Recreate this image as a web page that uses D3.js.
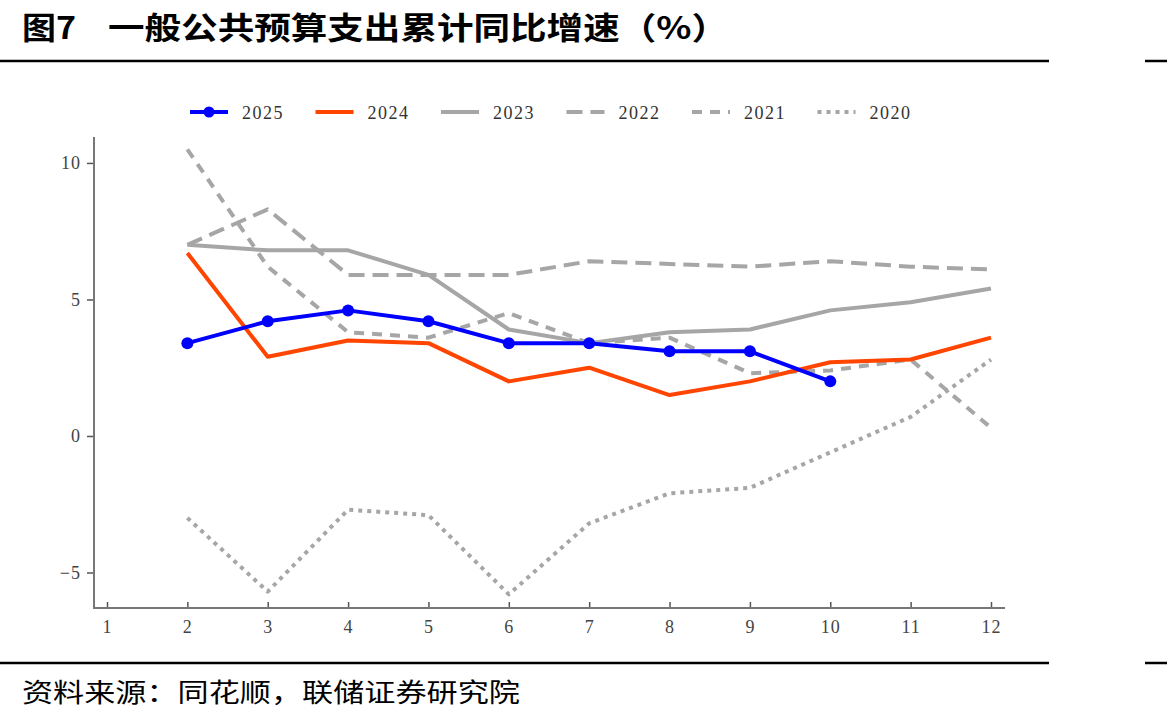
<!DOCTYPE html>
<html>
<head>
<meta charset="utf-8">
<script src="https://cdn.jsdelivr.net/npm/d3@7"></script>
<style>
  body { margin: 0; background: #fff; }
  svg { display: block; }
</style>
</head>
<body>
<script>
// months (x axis) and cumulative yoy growth per year
var months = [1, 2, 3, 4, 5, 6, 7, 8, 9, 10, 11, 12];
var yTicks = [-5, 0, 5, 10];
var years = ["2025", "2024", "2023", "2022", "2021", "2020"];

var s2025 = [null, 3.4, 4.2, 4.6, 4.2, 3.4, 3.4, 3.1, 3.1, 2.0, null, null];
var s2024 = [null, 6.7, 2.9, 3.5, 3.4, 2.0, 2.5, 1.5, 2.0, 2.7, 2.8, 3.6];
var s2023 = [null, 7.0, 6.8, 6.8, 5.9, 3.9, 3.4, 3.8, 3.9, 4.6, 4.9, 5.4];
var s2022 = [null, 7.0, 8.3, 5.9, 5.9, 5.9, 6.4, 6.3, 6.2, 6.4, 6.2, 6.1];
var s2021 = [null, 10.5, 6.2, 3.8, 3.6, 4.5, 3.4, 3.6, 2.3, 2.4, 2.8, 0.3];
var s2020 = [null, -3.0, -5.7, -2.7, -2.9, -5.8, -3.2, -2.1, -1.9, -0.6, 0.7, 2.8];

var seriesData = [s2025, s2024, s2023, s2022, s2021, s2020];
var styles = [
  {color: "#0000ff", dash: null, dot: true},
  {color: "#ff4500", dash: null},
  {color: "#a6a6a6", dash: null},
  {color: "#a6a6a6", dash: "16,8"},
  {color: "#a6a6a6", dash: "10,8"},
  {color: "#a6a6a6", dash: "4,5"}
];

var width = 1167, height = 724;
var svg = d3.select("body").append("svg")
    .attr("width", width)
    .attr("height", height);

// title
var cjk = "'Noto Sans CJK SC', sans-serif";
svg.append("text")
    .attr("x", 22).attr("y", 39)
    .attr("font-family", cjk).attr("font-weight", "bold")
    .attr("font-size", 31).attr("fill", "#000")
    .attr("textLength", 54).attr("lengthAdjust", "spacingAndGlyphs")
    .text("图7");
svg.append("text")
    .attr("x", 108).attr("y", 39)
    .attr("font-family", cjk).attr("font-weight", "bold")
    .attr("font-size", 31).attr("fill", "#000")
    .attr("textLength", 620).attr("lengthAdjust", "spacingAndGlyphs")
    .text("一般公共预算支出累计同比增速（%）");

// header and footer rules
[61, 663].forEach(function(yy) {
    svg.append("line").attr("x1", 0).attr("x2", 1049).attr("y1", yy).attr("y2", yy)
        .attr("stroke", "#000").attr("stroke-width", 2.5);
    svg.append("line").attr("x1", 1145).attr("x2", 1167).attr("y1", yy).attr("y2", yy)
        .attr("stroke", "#000").attr("stroke-width", 2.5);
});

svg.append("text")
    .attr("x", 22).attr("y", 702)
    .attr("font-family", cjk)
    .attr("font-size", 26)
    .attr("fill", "#000")
    .attr("textLength", 498).attr("lengthAdjust", "spacingAndGlyphs")
    .text("资料来源：同花顺，联储证券研究院");

var x = d3.scaleLinear().domain([1, 12]).range([107, 991]);
var y = d3.scaleLinear().domain([-6.3, 10.95]).range([608, 137]);

// axes
var tickFont = "'Liberation Serif', 'Times New Roman', serif";
var yAxis = svg.append("g")
    .attr("transform", "translate(94,0)")
    .call(d3.axisLeft(y).tickValues(yTicks).tickSize(7).tickPadding(6)
        .tickFormat(function(d) { return d < 0 ? "\u2212" + Math.abs(d) : d; }));
yAxis.select(".domain").remove();
yAxis.append("line").attr("x1", 0).attr("x2", 0).attr("y1", 137).attr("y2", 609)
    .attr("stroke", "#777").attr("stroke-width", 2);

var xAxis = svg.append("g")
    .attr("transform", "translate(0,608)")
    .call(d3.axisBottom(x).tickValues(months).tickSize(-6).tickPadding(12));
xAxis.select(".domain").remove();
xAxis.append("line").attr("x1", 93).attr("x2", 1005).attr("y1", 0).attr("y2", 0)
    .attr("stroke", "#777").attr("stroke-width", 2);

[xAxis, yAxis].forEach(function(a) {
    a.selectAll(".tick line").attr("stroke", "#555").attr("stroke-width", 1.5);
    a.selectAll(".tick text")
        .attr("font-family", tickFont)
        .attr("font-size", 18)
        .attr("letter-spacing", 1)
        .attr("fill", "#444");
});

var line = d3.line()
    .defined(function(d) { return d != null; })
    .x(function(d, i) { return x(months[i]); })
    .y(function(d) { return y(d); });

// draw older series first so 2025 sits on top
for (var k = seriesData.length - 1; k >= 0; k--) {
    var st = styles[k];
    svg.append("path")
        .attr("d", line(seriesData[k]))
        .attr("fill", "none")
        .attr("stroke", st.color)
        .attr("stroke-width", 4)
        .attr("stroke-dasharray", st.dash)
        .attr("stroke-linejoin", "round");
    if (st.dot) {
        svg.selectAll(".dot" + k)
            .data(seriesData[k].map(function(v, i) { return {m: months[i], v: v}; })
                .filter(function(d) { return d.v != null; }))
            .enter().append("circle")
            .attr("cx", function(d) { return x(d.m); })
            .attr("cy", function(d) { return y(d.v); })
            .attr("r", 6)
            .attr("fill", st.color);
    }
}

// legend
var legend = svg.append("g").attr("transform", "translate(190,112)");
years.forEach(function(yr, i) {
    var g = legend.append("g").attr("transform", "translate(" + (i * 125.5) + ",0)");
    var st = styles[i];
    g.append("line").attr("x1", 0).attr("x2", 38).attr("y1", 0).attr("y2", 0)
        .attr("stroke", st.color).attr("stroke-width", 4)
        .attr("stroke-dasharray", st.dash);
    if (st.dot) g.append("circle").attr("cx", 19).attr("cy", 0).attr("r", 5.5).attr("fill", st.color);
    g.append("text").attr("x", 52).attr("y", 7)
        .attr("font-family", tickFont)
        .attr("font-size", 18)
        .attr("letter-spacing", 1.5)
        .attr("fill", "#333")
        .text(yr);
});
</script>
</body>
</html>
